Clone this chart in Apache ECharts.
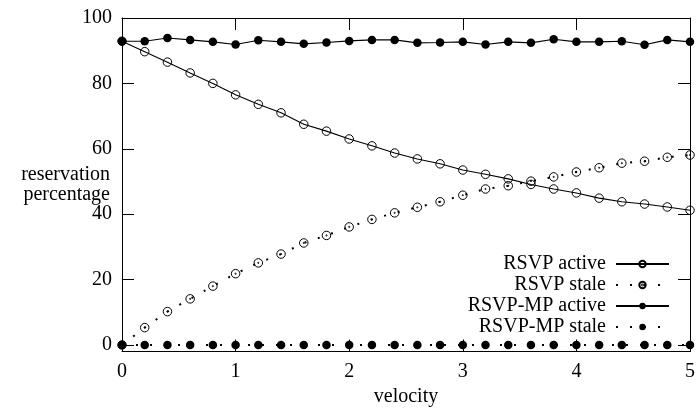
<!DOCTYPE html>
<html>
<head>
<meta charset="utf-8">
<script src="https://cdn.jsdelivr.net/npm/echarts@6/dist/echarts.min.js"></script>
<style>
  html, body { margin: 0; padding: 0; background: #fff; }
  #chart { width: 698px; height: 412px; }
</style>
</head>
<body>
<div id="chart"></div>
<script>
// Velocity sweep (x) and reservation percentages per protocol state
const velocity = [0, 0.2, 0.4, 0.6, 0.8, 1.0, 1.2, 1.4, 1.6, 1.8, 2.0, 2.2, 2.4,
                  2.6, 2.8, 3.0, 3.2, 3.4, 3.6, 3.8, 4.0, 4.2, 4.4, 4.6, 4.8, 5.0];

const rsvpActive = [92.9, 89.7, 86.5, 83.2, 80.0, 76.5, 73.6, 71.0, 67.5, 65.4, 63.0, 60.9, 58.7,
                    56.9, 55.4, 53.5, 52.2, 50.8, 49.1, 47.7, 46.5, 44.9, 43.8, 43.1, 42.2, 41.2];

const rsvpStale = [0, 5.3, 10.2, 14.1, 18.0, 21.8, 25.1, 27.8, 31.2, 33.5, 36.1, 38.4, 40.4,
                   42.1, 43.8, 45.8, 47.7, 48.7, 50.1, 51.4, 52.9, 54.2, 55.6, 56.2, 57.4, 58.1];

const mpActive = [92.9, 92.9, 93.9, 93.3, 92.7, 91.9, 93.2, 92.7, 92.1, 92.5, 93.0, 93.3, 93.3,
                  92.4, 92.5, 92.7, 91.9, 92.7, 92.4, 93.5, 92.7, 92.7, 92.9, 91.8, 93.3, 92.7];

const mpStale = [0, 0, 0, 0, 0, 0, 0, 0, 0, 0, 0, 0, 0,
                 0, 0, 0, 0, 0, 0, 0, 0, 0, 0, 0, 0, 0];

const yTicks = [0, 20, 40, 60, 80, 100];
const xTicks = [0, 1, 2, 3, 4, 5];

const FONT = 'Liberation Serif';
const pairs = ys => velocity.map((v, i) => [v, ys[i]]);

// hollow circle, and hollow circle with a centre dot
const RING = 'path://M0,10A10,10,0,1,1,20,10A10,10,0,1,1,0,10Z';
const RING_DOT = 'path://M0,10A10,10,0,1,1,20,10A10,10,0,1,1,0,10ZM8.6,10A1.4,1.4,0,1,1,11.4,10A1.4,1.4,0,1,1,8.6,10Z';

const hollow = { color: 'rgba(0,0,0,0)', borderColor: '#000', borderWidth: 1 };
const filled = { color: '#000', borderWidth: 0 };

const chart = echarts.init(document.getElementById('chart'), null, { renderer: 'canvas' });

const tickCommon = { show: true, inside: true, length: 12, lineStyle: { color: '#000', width: 1 } };
const lineCommon = { show: true, onZero: false, lineStyle: { color: '#000', width: 1 } };

chart.setOption({
  animation: false,
  backgroundColor: '#fff',
  textStyle: { fontFamily: FONT, color: '#000' },
  grid: { left: 122, right: 8, top: 18, bottom: 60.5, containLabel: false, outerBoundsMode: 'none' },
  legend: {
    orient: 'vertical',
    right: 28,
    top: 254,
    padding: 0,
    align: 'right',
    itemWidth: 53,
    itemHeight: 8,
    itemGap: 1,
    textStyle: { fontFamily: FONT, fontSize: 20, color: '#000', padding: [0, 5, 0, 0] },
    data: ['RSVP active', 'RSVP stale', 'RSVP-MP active', 'RSVP-MP stale']
  },
  xAxis: [
    {
      type: 'value', min: 0, max: 5, interval: 1,
      name: 'velocity', nameLocation: 'middle', nameGap: 35,
      nameTextStyle: { fontFamily: FONT, fontSize: 20, color: '#000' },
      axisLine: lineCommon,
      axisTick: Object.assign({ customValues: xTicks }, tickCommon),
      axisLabel: { customValues: xTicks, fontFamily: FONT, fontSize: 20, color: '#000', margin: 10 },
      splitLine: { show: false }
    },
    {
      type: 'value', position: 'top', min: 0, max: 5, interval: 1,
      axisLine: lineCommon,
      axisTick: Object.assign({ customValues: xTicks }, tickCommon),
      axisLabel: { show: false },
      splitLine: { show: false }
    }
  ],
  yAxis: [
    {
      type: 'value', min: -2, max: 100,
      name: 'reservation\npercentage', nameLocation: 'middle', nameRotate: 0, nameGap: 12,
      nameMoveOverlap: false,
      nameTextStyle: { fontFamily: FONT, fontSize: 20, color: '#000', align: 'right',
                       verticalAlign: 'middle', lineHeight: 20, padding: [0, 0, 12, 0] },
      axisLine: lineCommon,
      axisTick: Object.assign({ customValues: yTicks }, tickCommon),
      axisLabel: { customValues: yTicks, fontFamily: FONT, fontSize: 20, color: '#000', margin: 10 },
      splitLine: { show: false }
    },
    {
      type: 'value', position: 'right', min: -2, max: 100,
      axisLine: lineCommon,
      axisTick: Object.assign({ customValues: yTicks }, tickCommon),
      axisLabel: { show: false },
      splitLine: { show: false }
    }
  ],
  series: [
    {
      name: 'RSVP active', type: 'line', data: pairs(rsvpActive),
      symbol: RING, symbolSize: 8.5,
      lineStyle: { color: '#000', width: 1.1, type: 'solid' },
      itemStyle: hollow
    },
    {
      name: 'RSVP stale', type: 'line', data: pairs(rsvpStale),
      symbol: RING_DOT, symbolSize: 8.5,
      lineStyle: { color: '#000', width: 2, type: [2, 12], cap: 'butt' },
      itemStyle: hollow
    },
    {
      name: 'RSVP-MP active', type: 'line', data: pairs(mpActive),
      symbol: 'circle', symbolSize: 8.5,
      lineStyle: { color: '#000', width: 1.1, type: 'solid' },
      itemStyle: filled
    },
    {
      name: 'RSVP-MP stale', type: 'line', data: pairs(mpStale),
      symbol: 'circle', symbolSize: 8.5,
      lineStyle: { color: '#000', width: 2, type: [2, 12], cap: 'butt' },
      itemStyle: filled
    }
  ]
});
</script>
</body>
</html>
